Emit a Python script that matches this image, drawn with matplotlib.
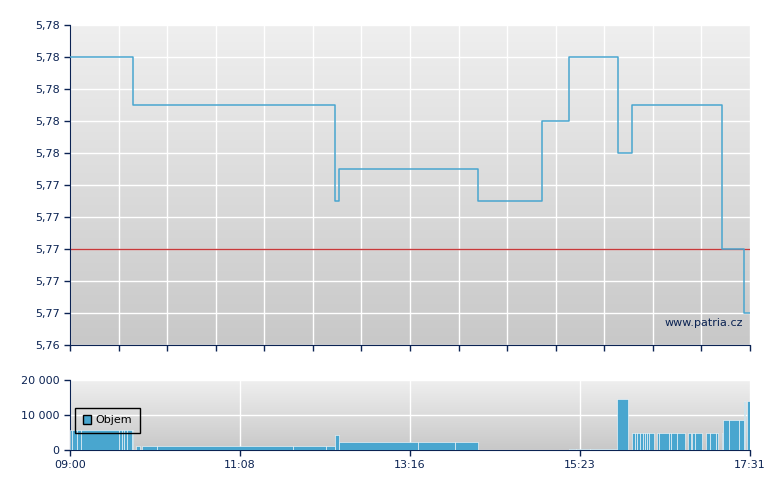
import numpy as np
import pandas as pd
import matplotlib
matplotlib.use('Agg')
import matplotlib.pyplot as plt
from matplotlib.colors import LinearSegmentedColormap
from matplotlib.patches import Patch
from matplotlib.ticker import MultipleLocator, FuncFormatter

# price steps (time of trade, price)
price_times = ['09:00:00', '09:47:00', '12:19:05', '12:21:55', '14:06:20', '14:54:30',
               '15:15:10', '15:51:35', '16:02:05', '17:10:10', '17:26:40']
price_values = [5.782, 5.779, 5.773, 5.775, 5.773, 5.778,
                5.782, 5.776, 5.779, 5.770, 5.766]
prev_close = 5.770

# volume blocks (start time, volume), each block runs to the next start
vol_times = ['09:00:00', '09:01:30', '09:05:02', '09:08:02', '09:37:03', '09:38:51',
             '09:40:35', '09:42:36', '09:46:22', '09:47:43', '09:49:36', '09:52:36',
             '09:54:20', '10:05:23', '11:47:21', '12:12:09', '12:19:08', '12:21:55',
             '13:21:44', '13:49:33', '14:06:23', '15:14:59', '15:20:28', '15:30:24',
             '15:50:50', '15:59:19', '16:02:20', '16:04:21', '16:06:18', '16:08:34',
             '16:10:22', '16:12:19', '16:13:36', '16:15:06', '16:18:51', '16:21:06',
             '16:22:50', '16:30:08', '16:31:24', '16:36:22', '16:41:56', '16:44:11',
             '16:46:26', '16:47:25', '16:49:27', '16:54:56', '16:57:56', '17:01:10',
             '17:05:14', '17:06:57', '17:09:44', '17:10:43', '17:15:00', '17:22:35',
             '17:26:16', '17:27:01', '17:28:58']
vol_values = [5800, 5800, 5800, 5800, 5800, 5800,
              5800, 5800, 5800, 0, 1200, 0,
              1200, 1200, 1200, 1200, 4300, 2400,
              2400, 2400, 0, 300, 300, 300,
              14600, 0, 4900, 4900, 4900, 4900,
              4900, 4900, 4900, 4900, 0, 4900,
              4900, 4900, 4900, 4900, 0, 4900,
              0, 4900, 4900, 0, 4900, 4900,
              4900, 0, 4900, 8600, 8600, 8600,
              14000, 0, 14000]

session_start = '09:00:00'
session_end = '17:31:00'
time_labels = ['09:00', '11:08', '13:16', '15:23', '17:31']


def minutes(ts):
    t = pd.to_timedelta(pd.Series(ts)) - pd.to_timedelta(session_start)
    return (t.dt.total_seconds() / 60).to_numpy()


t_end = minutes([session_end])[0]
px = np.append(minutes(price_times), t_end)
py = np.append(price_values, price_values[-1])
vt = minutes(vol_times)
vw = np.diff(np.append(vt, t_end))
vv = np.array(vol_values)

navy = '#0b2353'
blue = '#49a6cf'
grad = LinearSegmentedColormap.from_list('bg', ['#c8c8c8', '#efefef'])

fig = plt.figure(figsize=(7.8, 4.9), dpi=100)
ax = fig.add_axes([70/780, 1-345/490, 680/780, 320/490])
ax2 = fig.add_axes([70/780, 1-450/490, 680/780, 70/490])

for a in (ax, ax2):
    a.imshow(np.linspace(0, 1, 256).reshape(-1, 1)[::-1], extent=[0, 1, 0, 1],
             transform=a.transAxes, aspect='auto', cmap=grad, zorder=0)
    a.set_axisbelow(True)
    a.grid(True, color='white', lw=1)
    a.spines[['top', 'right']].set_visible(False)
    a.spines[['left', 'bottom']].set_color(navy)
    a.tick_params(colors=navy, labelsize=8, length=4, width=1)
    a.set_xlim(0, t_end)

# price chart
ax.step(px, py, where='post', color=blue, lw=1.1, zorder=3)
ax.axhline(prev_close, color='#c8393a', lw=1, zorder=2)
ax.set_ylim(5.764, 5.784)
ax.yaxis.set_major_locator(MultipleLocator(0.002))
ax.yaxis.set_major_formatter(FuncFormatter(lambda v, p: f'{v:.2f}'.replace('.', ',')))
ax.set_xticks(np.linspace(0, t_end, 15))
ax.set_xticklabels([])
ax.text(0.99, 0.07, 'www.patria.cz', transform=ax.transAxes, ha='right', va='center',
        color=navy, fontsize=8)

# volume chart
m = vv > 0
ax2.bar(vt[m], vv[m], width=vw[m], align='edge', color=blue, edgecolor='white',
        lw=0.4, zorder=3)
ax2.set_ylim(0, 20000)
ax2.set_yticks([0, 10000, 20000])
ax2.yaxis.set_major_formatter(FuncFormatter(lambda v, p: f'{int(v):,}'.replace(',', ' ')))
ax2.set_xticks(np.linspace(0, t_end, 5))
ax2.set_xticklabels(time_labels)
leg = ax2.legend(handles=[Patch(facecolor=blue, edgecolor='black', label='Objem')],
                 loc='lower left', bbox_to_anchor=(0.007, 0.24), borderaxespad=0,
                 fancybox=False, framealpha=1, facecolor='none', edgecolor='black',
                 fontsize=8, handlelength=0.8, handleheight=0.8, borderpad=0.7,
                 handletextpad=0.35)
leg.get_frame().set_linewidth(1)
leg.set_zorder(5)
for t in leg.get_texts():
    t.set_color('black')

fig.savefig('out.png', dpi=100)
